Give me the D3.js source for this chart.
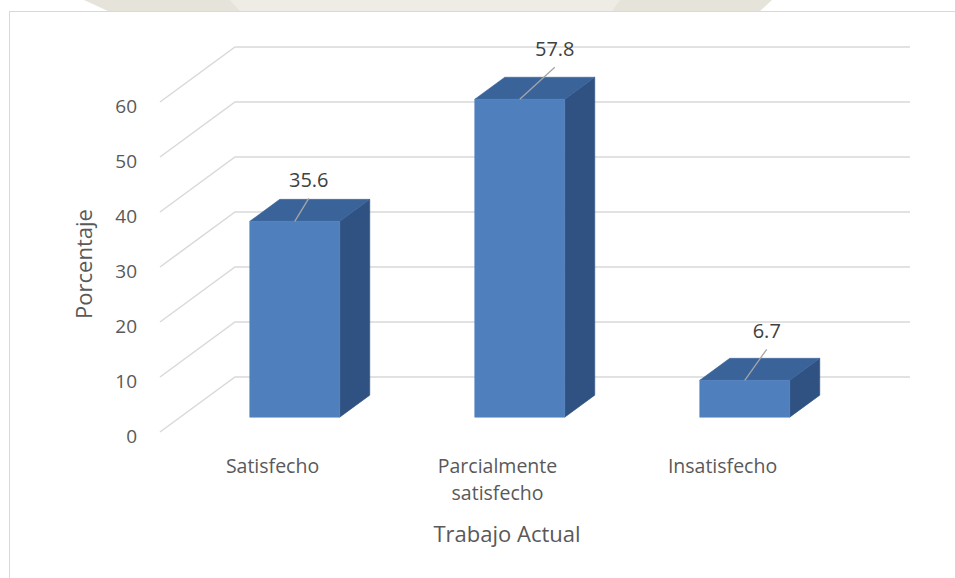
<!DOCTYPE html>
<html>
<head>
<meta charset="utf-8">
<script src="https://cdn.jsdelivr.net/npm/d3@7/dist/d3.min.js"></script>
<style>
  html, body { margin: 0; padding: 0; background: #ffffff; }
  svg { display: block; font-family: "Open Sans", "Noto Sans", sans-serif; }
</style>
</head>
<body>
<svg id="chart" width="955" height="578"></svg>
<script>
// Trabajo actual: distribution of satisfaction (percent)
const categories = ["Satisfecho", "Parcialmente satisfecho", "Insatisfecho"];
const values = [35.6, 57.8, 6.7];
const tickValues = [0, 10, 20, 30, 40, 50, 60];
const yTitle = "Porcentaje";
const xTitle = "Trabajo Actual";

// label nudges relative to the top of each bar (leader-line start)
const labelNudge = [[14, -23], [35, -32], [22, -31]];

const svg = d3.select("#chart");

// faint watermark band at the very top
svg.append("path")
  .attr("d", "M84,0 L772,0 L760,11 L108,11 Z")
  .attr("fill", "#e6e4da");
svg.append("path")
  .attr("d", "M230,0 L620,0 L612,11 L240,11 Z")
  .attr("fill", "#eeece5");

// chart frame
svg.append("rect")
  .attr("x", 9.5).attr("y", 11.5)
  .attr("width", 960).attr("height", 600)
  .attr("fill", "#ffffff")
  .attr("stroke", "#d9d9d9").attr("stroke-width", 1);

// oblique projection: depth 0 = front plane, depth 1 = back wall
const depthDX = 75, depthDY = -55;
const x = d3.scaleBand().domain(categories).range([162, 837]).paddingInner(0.6).paddingOuter(0.3);
const y = d3.scaleLinear().domain([0, 60]).range([432, 102]);
const proj = (px, v, d) => [px + depthDX * d, y(v) + depthDY * d];

const xLeft = 160, xRight = 835;

// gridlines: side-wall diagonals + back-wall horizontals
const grid = svg.append("g").attr("stroke", "#d9d9d9").attr("stroke-width", 1.5).attr("fill", "none");
tickValues.forEach(v => {
  const a = proj(xLeft, v, 0), b = proj(xLeft, v, 1), c = proj(xRight, v, 1);
  grid.append("path").attr("d", `M${a[0]},${a[1]} L${b[0]},${b[1]} L${c[0]},${c[1]}`);
});

// value axis labels
svg.append("g").selectAll("text").data(tickValues).join("text")
  .attr("x", 137)
  .attr("y", d => y(d) + 11)
  .attr("text-anchor", "end")
  .attr("fill", "#595959")
  .attr("font-size", 19)
  .text(d => d);

// bars
const d0 = 0.27, d1 = 0.67;
const colFront = "#4f80bd", colTop = "#3a639a", colSide = "#2f5282";
const bars = svg.append("g");
categories.forEach((c, i) => {
  const v = values[i];
  const xl = x(c), xr = x(c) + x.bandwidth();
  const fBL = proj(xl, 0, d0), fBR = proj(xr, 0, d0), fTL = proj(xl, v, d0), fTR = proj(xr, v, d0);
  const bBR = proj(xr, 0, d1), bTL = proj(xl, v, d1), bTR = proj(xr, v, d1);
  const poly = pts => "M" + pts.map(p => p.join(",")).join("L") + "Z";
  bars.append("path").attr("d", poly([fTR, bTR, bBR, fBR])).attr("fill", colSide)
    .attr("stroke", colSide).attr("stroke-width", 0.6);
  bars.append("path").attr("d", poly([fTL, bTL, bTR, fTR])).attr("fill", colTop)
    .attr("stroke", colTop).attr("stroke-width", 0.6);
  bars.append("path").attr("d", poly([fBL, fTL, fTR, fBR])).attr("fill", colFront)
    .attr("stroke", colFront).attr("stroke-width", 0.6);

  // data label with leader line
  const end = proj(xl + x.bandwidth() / 2, v, d0);
  const start = [end[0] + labelNudge[i][0], end[1] + labelNudge[i][1]];
  svg.append("line")
    .attr("x1", start[0]).attr("y1", start[1])
    .attr("x2", end[0]).attr("y2", end[1])
    .attr("stroke", "#a6a6a6").attr("stroke-width", 1.3);
  svg.append("text")
    .attr("x", start[0]).attr("y", start[1] - 11)
    .attr("text-anchor", "middle")
    .attr("fill", "#404040")
    .attr("font-size", 20)
    .text(v.toFixed(1));
});

// category labels (front plane)
const catWrap = {"Parcialmente satisfecho": ["Parcialmente", "satisfecho"]};
svg.append("g").selectAll("text").data(categories).join("text")
  .attr("x", d => x(d) + x.bandwidth() / 2 - 2)
  .attr("y", 473)
  .attr("text-anchor", "middle")
  .attr("fill", "#595959")
  .attr("font-size", 19.5)
  .each(function(d) {
    const lines = catWrap[d] || [d];
    d3.select(this).selectAll("tspan").data(lines).join("tspan")
      .attr("x", x(d) + x.bandwidth() / 2 - 2)
      .attr("dy", (l, j) => j === 0 ? 0 : 27)
      .text(l => l);
  });

// axis titles
svg.append("text")
  .attr("x", 507).attr("y", 542)
  .attr("text-anchor", "middle")
  .attr("fill", "#595959")
  .attr("font-size", 22)
  .text(xTitle);

svg.append("text")
  .attr("transform", "translate(92,264) rotate(-90)")
  .attr("text-anchor", "middle")
  .attr("fill", "#595959")
  .attr("font-size", 22)
  .text(yTitle);
</script>
</body>
</html>
